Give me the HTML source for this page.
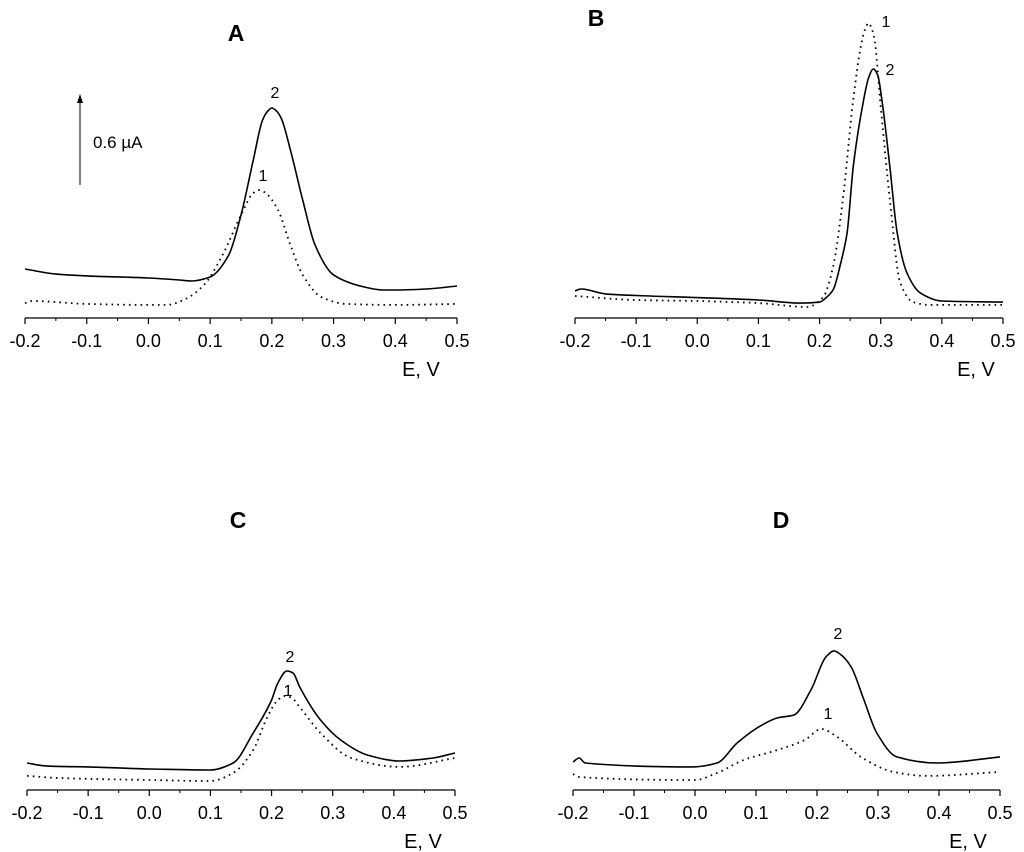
<!DOCTYPE html>
<html><head><meta charset="utf-8"><style>
body{margin:0;background:#fff}
svg{display:block;font-family:"Liberation Sans",sans-serif}
</style></head><body>
<svg id="fig" width="1024" height="852" viewBox="0 0 1024 852">
<g>
<line x1="80" y1="185" x2="80" y2="100" stroke="#000" stroke-width="1"/>
<path d="M77,103 L80,94 L83,103 Z" fill="#000"/>
<text x="93" y="148" font-size="17">0.6 µA</text>
</g>
</svg>
<script>
const tickLabels = ["-0.2","-0.1","0.0","0.1","0.2","0.3","0.4","0.5"];
const tickValues = [-0.2,-0.1,0,0.1,0.2,0.3,0.4,0.5];

const aE2 = [-0.2,-0.15,-0.1,0,0.05,0.07,0.1,0.13,0.15,0.17,0.185,0.193,0.2,0.207,0.215,0.23,0.25,0.27,0.3,0.35,0.38,0.4,0.45,0.5];
const aI2 = [0.338,0.303,0.29,0.276,0.262,0.255,0.283,0.434,0.71,1.09,1.366,1.425,1.448,1.43,1.379,1.159,0.814,0.503,0.297,0.214,0.193,0.193,0.2,0.221];
const aE1 = [-0.2,-0.19,-0.1,0,0.03,0.06,0.09,0.12,0.15,0.17,0.18,0.19,0.21,0.23,0.25,0.28,0.32,0.4,0.5];
const aI1 = [0.103,0.117,0.097,0.09,0.09,0.131,0.228,0.434,0.71,0.862,0.883,0.862,0.745,0.503,0.297,0.145,0.097,0.09,0.097];

const bE2 = [-0.2,-0.19,-0.15,-0.1,0,0.1,0.17,0.2,0.212,0.222,0.235,0.245,0.255,0.272,0.28,0.288,0.295,0.302,0.315,0.327,0.343,0.365,0.4,0.5];
const bI2 = [0.186,0.2,0.166,0.155,0.141,0.124,0.103,0.11,0.145,0.193,0.386,0.586,1.041,1.503,1.655,1.717,1.676,1.503,1.041,0.586,0.31,0.172,0.117,0.11];
const bE1 = [-0.2,-0.1,0,0.1,0.18,0.206,0.222,0.238,0.255,0.268,0.274,0.28,0.285,0.29,0.299,0.315,0.332,0.353,0.38,0.5];
const bI1 = [0.152,0.124,0.117,0.103,0.076,0.145,0.352,0.814,1.503,1.883,1.986,2.034,2.0,1.917,1.503,0.814,0.241,0.11,0.09,0.09];

const cE2 = [-0.2,-0.17,-0.1,0,0.1,0.137,0.17,0.2,0.21,0.225,0.235,0.246,0.28,0.313,0.357,0.41,0.464,0.5];
const cI2 = [0.186,0.166,0.159,0.145,0.138,0.186,0.393,0.621,0.735,0.821,0.807,0.71,0.483,0.345,0.241,0.2,0.221,0.255];
const cE1 = [-0.2,-0.15,0,0.1,0.137,0.17,0.193,0.21,0.222,0.233,0.246,0.28,0.33,0.41,0.5];
const cI1 = [0.097,0.083,0.069,0.062,0.117,0.276,0.503,0.62,0.648,0.635,0.572,0.393,0.221,0.159,0.221];

const dE2 = [-0.2,-0.19,-0.18,-0.003,0.036,0.069,0.102,0.135,0.162,0.19,0.215,0.228,0.24,0.256,0.277,0.298,0.331,0.397,0.5];
const dI2 = [0.193,0.221,0.186,0.159,0.186,0.324,0.428,0.497,0.517,0.69,0.92,0.959,0.93,0.848,0.621,0.393,0.228,0.186,0.228];
const dE1 = [-0.2,-0.19,0,0.036,0.08,0.135,0.18,0.207,0.233,0.272,0.326,0.38,0.5];
const dI1 = [0.11,0.09,0.069,0.117,0.207,0.276,0.345,0.421,0.366,0.228,0.124,0.097,0.124];

const panels = [
 {id:"a",x0:25,x1:457,axisY:318,title:"A",tx:236,ty:41,s2:[aE2,aI2],s1:[aE1,aI1],l2:[275,98],l1:[263,181],ev:[421,376]},
 {id:"b",x0:575,x1:1003,axisY:318,title:"B",tx:596,ty:26,s2:[bE2,bI2],s1:[bE1,bI1],l2:[890,75],l1:[886,27],ev:[976,376]},
 {id:"c",x0:27,x1:455,axisY:790,title:"C",tx:238,ty:528,s2:[cE2,cI2],s1:[cE1,cI1],l2:[290,662],l1:[288,696],ev:[423,848]},
 {id:"d",x0:573,x1:1000,axisY:790,title:"D",tx:781,ty:528,s2:[dE2,dI2],s1:[dE1,dI1],l2:[838,639],l1:[828,719],ev:[968,848]}
];
const NS="http://www.w3.org/2000/svg";
const svg=document.getElementById("fig");
const PX_PER_UA=145;
function mk(tag,attrs,parent){const e=document.createElementNS(NS,tag);for(const k in attrs)e.setAttribute(k,attrs[k]);parent.appendChild(e);return e;}
function pathFrom(pts){
 const n=pts.length,dx=[],sl=[],m=[];
 for(let i=0;i<n-1;i++){dx[i]=pts[i+1][0]-pts[i][0];sl[i]=(pts[i+1][1]-pts[i][1])/dx[i];}
 m[0]=sl[0];m[n-1]=sl[n-2];
 for(let i=1;i<n-1;i++){
  if(sl[i-1]*sl[i]<=0)m[i]=0;
  else{const w1=2*dx[i]+dx[i-1],w2=dx[i]+2*dx[i-1];m[i]=(w1+w2)/(w1/sl[i-1]+w2/sl[i]);}
 }
 let d="M"+pts[0][0].toFixed(1)+","+pts[0][1].toFixed(1);
 for(let i=0;i<n-1;i++){
  const h=dx[i]/3;
  d+=" C"+(pts[i][0]+h).toFixed(1)+","+(pts[i][1]+m[i]*h).toFixed(1)+" "+(pts[i+1][0]-h).toFixed(1)+","+(pts[i+1][1]-m[i+1]*h).toFixed(1)+" "+pts[i+1][0].toFixed(1)+","+pts[i+1][1].toFixed(1);
 }
 return d;
}
panels.forEach(p=>{
 const xs=v=>p.x0+(v+0.2)/0.7*(p.x1-p.x0);
 const ys=v=>p.axisY-v*PX_PER_UA;
 const g=mk("g",{},svg);
 
 
 const t=mk("text",{x:p.tx,y:p.ty,"font-size":"23","font-weight":"bold","text-anchor":"middle"},g);
 t.textContent=p.title;
 
 
 const ax=mk("line",{x1:p.x0,y1:p.axisY,x2:p.x1,y2:p.axisY,stroke:"#000","stroke-width":1.2},g);
 
 
 for(let i=0;i<tickValues.length;i++){
  const x=xs(tickValues[i]);
  mk("line",{x1:x,y1:p.axisY,x2:x,y2:p.axisY+6,stroke:"#000","stroke-width":1.2},g);
  if(i<tickValues.length-1){const xm=xs(tickValues[i]+0.05);mk("line",{x1:xm,y1:p.axisY,x2:xm,y2:p.axisY+3,stroke:"#000","stroke-width":1},g);}
  const tl=mk("text",{x:x,y:p.axisY+29,"font-size":"18","text-anchor":"middle"},g);
  tl.textContent=tickLabels[i];
  
  
 }
 const ev=mk("text",{x:p.ev[0],y:p.ev[1],"font-size":"20","text-anchor":"middle"},g);
 ev.textContent="E, V";
 
 
 const pts2=p.s2[0].map((e,i)=>[xs(e),ys(p.s2[1][i])]);
 const pts1=p.s1[0].map((e,i)=>[xs(e),ys(p.s1[1][i])]);
 const c2=mk("path",{d:pathFrom(pts2),fill:"none",stroke:"#000","stroke-width":1.6},g);
 
 
 const c1=mk("path",{d:pathFrom(pts1),fill:"none",stroke:"#000","stroke-width":1.8,"stroke-dasharray":"1.6 4.2"},g);
 
 
 const l2=mk("text",{x:p.l2[0],y:p.l2[1],"font-size":"16","text-anchor":"middle"},g);
 l2.textContent="2";
 
 
 const l1=mk("text",{x:p.l1[0],y:p.l1[1],"font-size":"16","text-anchor":"middle"},g);
 l1.textContent="1";
 
 
});
</script>
</body></html>
